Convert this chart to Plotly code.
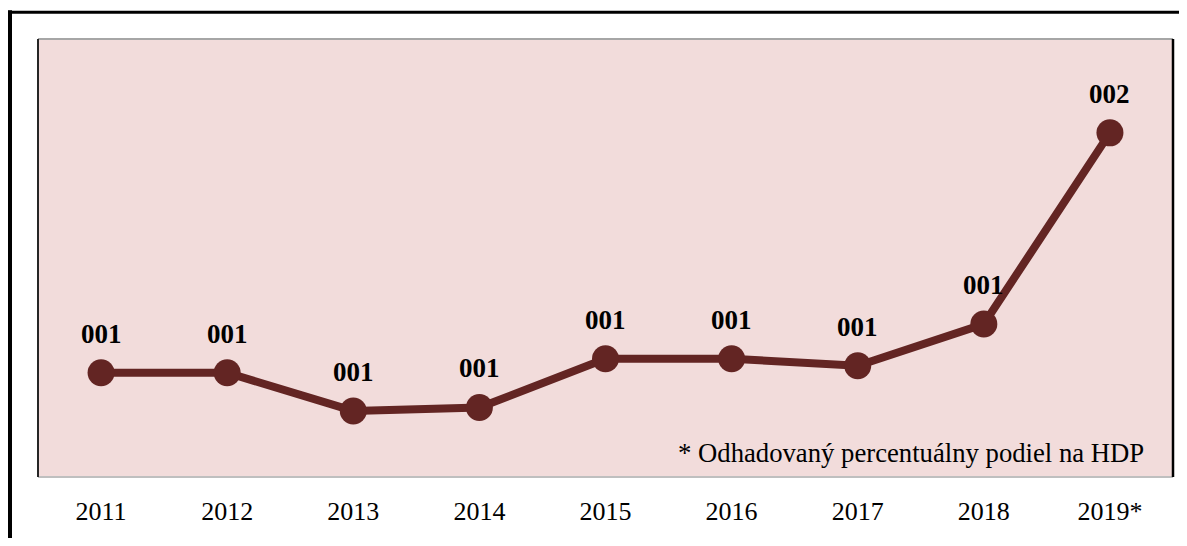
import plotly.graph_objects as go

years = ["2011", "2012", "2013", "2014", "2015", "2016", "2017", "2018", "2019*"]
values = [1.01, 1.01, 0.90, 0.91, 1.05, 1.05, 1.03, 1.15, 1.70]
labels = [f"{round(v):03d}" for v in values]
footnote = "* Odhadovaný percentuálny podiel na HDP"

LINE = "#632523"
SERIF = "Liberation Serif, Times New Roman, serif"

# page body has an 8px margin; figure coordinates are screen coordinates minus 8
OFF = 8
W, H = 1187 - OFF, 546 - 2 * OFF
ML, MR, MT, MB = 30, 14, 31, 49
PW = W - ML - MR
PH = H - MT - MB

def px(x_screen):
    return (x_screen - OFF - ML) / PW

def py(y_screen):
    return (H - MB - (y_screen - OFF)) / PH

fig = go.Figure()
fig.add_trace(go.Scatter(
    x=years, y=values, mode="lines+markers",
    line=dict(color=LINE, width=8),
    marker=dict(color=LINE, size=27),
    hoverinfo="skip", showlegend=False,
))

for i, (v, lab) in enumerate(zip(values, labels)):
    fig.add_annotation(x=i, y=v, xref="x", yref="y", text=f"<b>{lab}</b>", showarrow=False,
                       yshift=39, yanchor="middle",
                       font=dict(family=SERIF, size=27, color="black"))

fig.add_annotation(xref="paper", yref="paper", x=px(1146), y=py(464),
                   xanchor="right", yanchor="middle", showarrow=False,
                   text=footnote, font=dict(family=SERIF, size=26.7, color="black"))

shapes = [
    # outer frame (cropped)
    dict(type="line", xref="paper", yref="paper", x0=px(10), x1=px(10), y0=py(600), y1=py(9.5),
         line=dict(color="black", width=4)),
    dict(type="line", xref="paper", yref="paper", x0=px(8), x1=px(1250), y0=py(11.5), y1=py(11.5),
         line=dict(color="black", width=3)),
    # plot area border
    dict(type="line", xref="paper", yref="paper", x0=0, x1=1, y0=1, y1=1,
         line=dict(color="#A6A6A6", width=2)),
    dict(type="line", xref="paper", yref="paper", x0=0, x1=1, y0=0, y1=0,
         line=dict(color="#BFBFBF", width=2)),
    dict(type="line", xref="paper", yref="paper", x0=0, x1=0, y0=0, y1=1,
         line=dict(color="#262626", width=2)),
    dict(type="line", xref="paper", yref="paper", x0=1, x1=1, y0=0, y1=1,
         line=dict(color="black", width=2.5)),
]

fig.update_layout(
    width=W, height=H,
    margin=dict(l=ML, r=MR, t=MT, b=MB),
    paper_bgcolor="white", plot_bgcolor="#F2DCDB",
    shapes=shapes,
    xaxis=dict(type="category", range=[-0.5, len(years) - 0.5], showgrid=False,
               showline=False, zeroline=False, ticks="", ticklabelstandoff=16,
               tickfont=dict(family=SERIF, size=26, color="black"), fixedrange=True),
    yaxis=dict(range=[0.71, 1.97], visible=False, fixedrange=True),
)

fig.write_html("out.html")
